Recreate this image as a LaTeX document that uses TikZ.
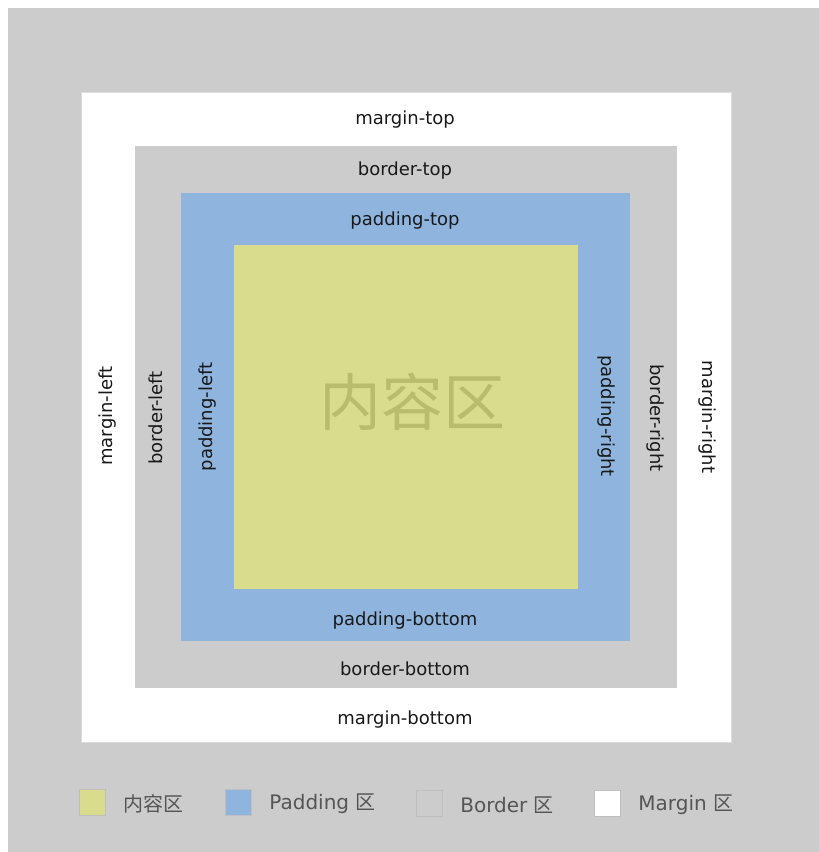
\documentclass[tikz,border=0pt]{standalone}
\usepackage{fontspec}
\setmainfont{DejaVu Sans}
\newfontfamily\cjk{Noto Sans CJK SC}
\usepackage{tikz}
\usetikzlibrary{positioning}

\definecolor{bggray}{HTML}{CCCCCC}
\definecolor{padblue}{HTML}{8FB4DE}
\definecolor{contentyellow}{HTML}{D9DC8C}
\definecolor{contenttext}{HTML}{B9BC6C}
\definecolor{legendtext}{HTML}{555555}
\definecolor{edgegray}{HTML}{DDDDDD}

\tikzset{
  boxlabel/.style={font=\fontsize{18}{18}\selectfont, text=black!90, inner sep=0pt},
  legendkey/.style={draw=black!25, minimum width=26pt, minimum height=26pt, inner sep=0pt},
  legendlabel/.style={font=\fontsize{20}{20}\selectfont, text=legendtext, inner sep=0pt, right=18pt of #1, yshift=-2pt},
}

\begin{document}
\begin{tikzpicture}[x=1pt, y=-1pt]
            \useasboundingbox (0,0) rectangle (819,852);
            \fill[bggray] (8,8) rectangle (819,852); % background

            \filldraw[fill=white, draw=edgegray] (81,92) rectangle (731,742); % margin
            \fill[bggray] (135,146) rectangle (677,688); % border
            \fill[padblue] (181,193) rectangle (630,641); % padding
            \fill[contentyellow] (234,245) rectangle (578,589); % content

            \node[font=\cjk\fontsize{62}{62}\selectfont, text=contenttext] (content) at (412,402) {内容区};

            \node[boxlabel] (margintop) at (405,120) {margin-top};
            \node[boxlabel] (bordertop) at (405,171) {border-top};
            \node[boxlabel] (paddingtop) at (405,221) {padding-top};
            \node[boxlabel] (paddingbottom) at (405,621) {padding-bottom};
            \node[boxlabel] (borderbottom) at (405,669) {border-bottom};
            \node[boxlabel] (marginbottom) at (405,720) {margin-bottom};

            \node[boxlabel, rotate=90] (marginleft) at (108,416) {margin-left};
            \node[boxlabel, rotate=90] (borderleft) at (156,418) {border-left};
            \node[boxlabel, rotate=90] (paddingleft) at (208,417) {padding-left};
            \node[boxlabel, rotate=-90] (paddingright) at (606,416) {padding-right};
            \node[boxlabel, rotate=-90] (borderright) at (655,418) {border-right};
            \node[boxlabel, rotate=-90] (marginright) at (707,417) {margin-right};

            % legend
            \node[legendkey, fill=contentyellow] (contentkey) at (92,802) {};
            \node[legendlabel=contentkey] (contentname) {\cjk 内容区};
            \node[legendkey, fill=padblue] (paddingkey) at (238,802) {};
            \node[legendlabel=paddingkey] (paddingname) {Padding {\cjk 区}};
            \node[legendkey, fill=bggray] (borderkey) at (429,803) {};
            \node[legendlabel=borderkey] (bordername) {Border {\cjk 区}};
            \node[legendkey, fill=white] (marginkey) at (607,803) {};
            \node[legendlabel=marginkey] (marginname) {Margin {\cjk 区}};

        \end{tikzpicture}
\end{document}
